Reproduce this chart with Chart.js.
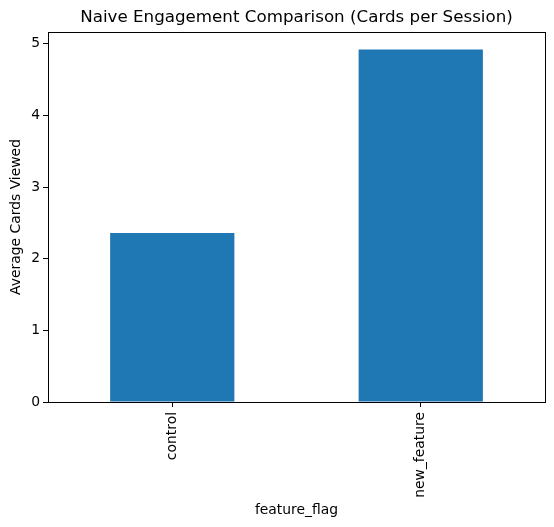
<!DOCTYPE html>
<html>
<head>
<meta charset="utf-8">
<script src="https://cdn.jsdelivr.net/npm/chart.js@4"></script>
<style>
  html, body { margin: 0; padding: 0; background: #fff; }
  #wrap { width: 554px; height: 527px; }
</style>
</head>
<body>
<div id="wrap"><canvas id="myChart" width="554" height="527"></canvas></div>
<script>
var categories = ['control', 'new_feature'];
var avgCards = [2.36, 4.92];
var yTicks = [0, 1, 2, 3, 4, 5];
var chartTitle = 'Naive Engagement Comparison (Cards per Session)';

var FONT = "'DejaVu Sans', sans-serif";

// axes frame and title centred over the plot area, like matplotlib
var frame = {
    id: 'frame',
    afterDatasetsDraw: function(chart) {
        var a = chart.chartArea, c = chart.ctx;
        c.save();
        c.strokeStyle = '#000';
        c.lineWidth = 1;
        c.strokeRect(Math.round(a.left) + 0.5, Math.round(a.top) + 0.5,
            Math.round(a.right - a.left), Math.round(a.bottom - a.top));
        c.fillStyle = '#000';
        c.font = '16.7px ' + FONT;
        c.textAlign = 'center';
        c.textBaseline = 'middle';
        c.fillText(chartTitle, (a.left + a.right) / 2, 18);
        c.restore();
    }
};

var ctx = document.getElementById('myChart').getContext('2d');

var myChart = new Chart(ctx, {
    type: 'bar',
    data: {
        labels: categories,
        datasets: [{
            label: 'Average Cards Viewed',
            data: avgCards,
            backgroundColor: '#1f77b4',
            borderWidth: 0,
            inflateAmount: 0,
            categoryPercentage: 1.0,
            barPercentage: 0.5
        }]
    },
    options: {
        responsive: false,
        animation: false,
        layout: { padding: { left: 0, right: 9, top: 32, bottom: 0 } },
        plugins: {
            legend: { display: false },
            tooltip: { enabled: false },
            title: { display: false }
        },
        scales: {
            x: {
                grid: { display: true, offset: false, drawOnChartArea: false, drawTicks: true, tickLength: 5, color: '#000' },
                border: { display: false },
                ticks: {
                    color: '#000',
                    font: { family: FONT, size: 13.9 },
                    minRotation: 90,
                    maxRotation: 90,
                    padding: 5
                },
                title: {
                    display: true,
                    text: 'feature_flag',
                    color: '#000',
                    font: { family: FONT, size: 13.9 },
                    padding: { top: 0, bottom: 8 }
                },
                afterFit: function(s) { s.height = 125; }
            },
            y: {
                min: 0,
                max: Math.max.apply(null, avgCards) * 1.05,
                grid: { display: true, drawOnChartArea: false, drawTicks: true, tickLength: 5, color: '#000' },
                border: { display: false },
                ticks: {
                    stepSize: 1,
                    includeBounds: false,
                    color: '#000',
                    font: { family: FONT, size: 13.9 },
                    padding: 3,
                    callback: function(v) { return yTicks.indexOf(v) >= 0 ? String(v) : null; }
                },
                title: {
                    display: true,
                    text: 'Average Cards Viewed',
                    color: '#000',
                    font: { family: FONT, size: 13.9 },
                    padding: { top: 8, bottom: 0 }
                },
                afterFit: function(s) { s.width = 48; }
            }
        }
    },
    plugins: [frame]
});
</script>
</body>
</html>
